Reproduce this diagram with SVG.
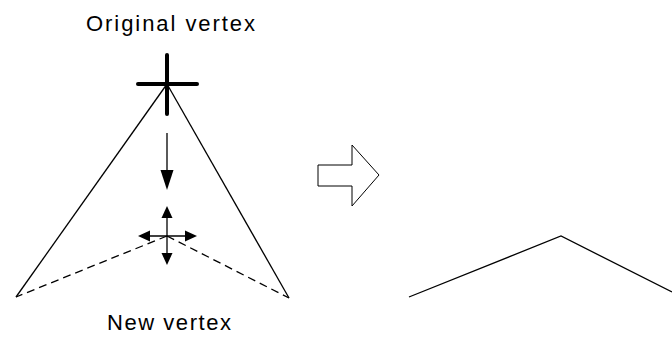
<svg xmlns="http://www.w3.org/2000/svg" width="672" height="338" viewBox="0 0 672 338">
<style>
.ln{stroke:#000;stroke-width:1.3;fill:none}
.dash{stroke:#000;stroke-width:1.3;fill:none;stroke-dasharray:8 5}
.cross{stroke:#000;stroke-width:4;stroke-linecap:round;fill:none}
.head{fill:#000;stroke:none}
.lbl{font-family:"Liberation Sans",Arial,sans-serif;font-size:22px;fill:#000}
</style>
<rect width="672" height="338" fill="#fff"/>
<g id="connectors">
<line class="ln" x1="167" y1="84" x2="16" y2="297"/>
<line class="ln" x1="167" y1="84" x2="289" y2="298"/>
<line class="dash" x1="167" y1="236" x2="16" y2="297"/>
<line class="dash" x1="167" y1="236" x2="289" y2="298"/>
<line class="ln" x1="167" y1="133" x2="167" y2="172"/>
<polygon class="head" points="160.5,170 173.5,170 167,190"/>
<line class="ln" x1="167" y1="215" x2="167" y2="256"/>
<line class="ln" x1="147" y1="236" x2="188" y2="236"/>
<polygon class="head" points="161.5,218 172.5,218 167,206"/>
<polygon class="head" points="161.5,253 172.5,253 167,265"/>
<polygon class="head" points="150,230.5 150,241.5 138,236"/>
<polygon class="head" points="185,230.5 185,241.5 197,236"/>
</g>
<g id="original-vertex">
<line class="cross" x1="167" y1="55" x2="167" y2="114"/>
<line class="cross" x1="138" y1="84" x2="197" y2="84"/>
<text class="lbl" x="86" y="31" textLength="169" lengthAdjust="spacing">Original vertex</text>
</g>
<g id="new-vertex">
<text class="lbl" x="107" y="330" textLength="124" lengthAdjust="spacing">New vertex</text>
</g>
<g id="transform-arrow">
<polygon points="318,165 352,165 352,145 379,175 352,206 352,186 318,186" fill="#fff" stroke="#000" stroke-width="1"/>
</g>
<g id="result">
<polyline class="ln" points="409,297 561,236 672,292"/>
</g>
</svg>
